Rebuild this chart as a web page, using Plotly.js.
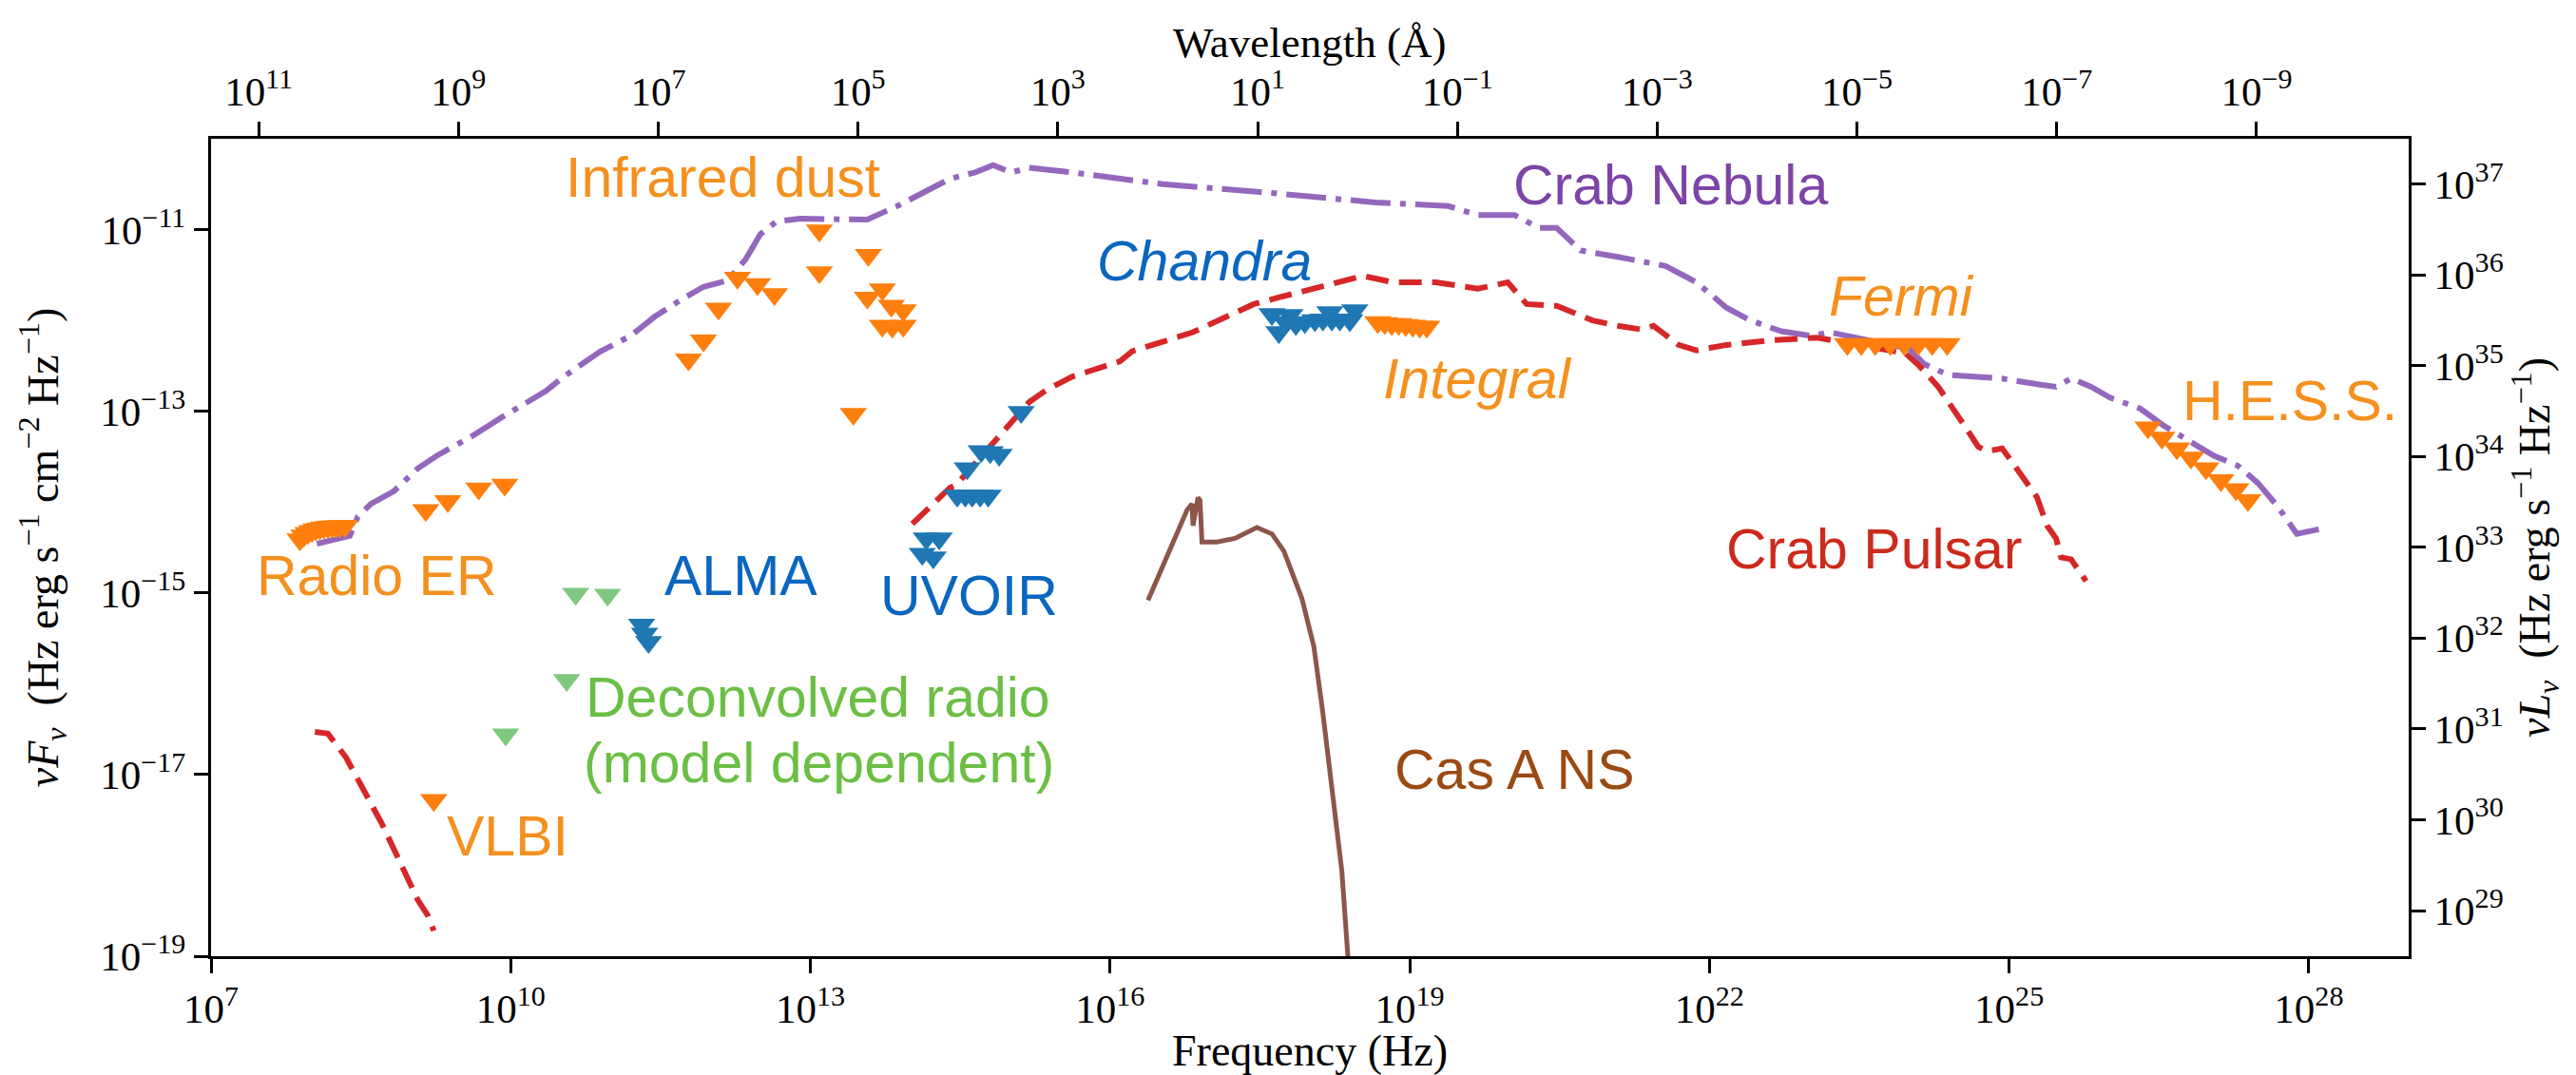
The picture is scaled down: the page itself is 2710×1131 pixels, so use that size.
<!DOCTYPE html>
<html>
<head>
<meta charset="utf-8">
<script src="https://cdn.plot.ly/plotly-3.0.1.min.js"></script>
<style>html,body{margin:0;padding:0;background:#fff;}#chart{width:2710px;height:1131px;}</style>
</head>
<body>
<div id="chart"></div>
<script>
// All values are log10 of frequency (Hz) and log10 of nuF_nu (erg s^-1 cm^-2).

// Crab Nebula (dash-dot)
const nebulaLogNu = [8.06,8.25,8.39,8.47,8.60,8.83,9.07,9.26,9.62,9.92,10.35,10.53,10.90,11.20,11.44,11.68,11.93,12.17,12.35,12.50,12.66,12.90,13.38,13.57,13.87,14.40,14.65,14.83,15.01,15.19,15.62,16.53,17.44,18.65,19.38,19.68,20.05,20.29,20.47,20.71,21.08,21.56,21.87,22.17,22.41,22.72,23.02,23.20,24.00,24.15,24.39,24.93,25.33,25.47,25.62,25.82,26.01,26.31,26.55,26.80,27.05,27.29,27.49,27.69,27.88,28.10];
const nebulaLogF  = [-14.46,-14.41,-14.37,-14.16,-14.02,-13.88,-13.63,-13.49,-13.27,-13.06,-12.78,-12.62,-12.34,-12.17,-11.96,-11.79,-11.63,-11.56,-11.33,-11.05,-10.91,-10.88,-10.88,-10.89,-10.74,-10.44,-10.37,-10.29,-10.37,-10.32,-10.37,-10.50,-10.58,-10.70,-10.74,-10.84,-10.84,-10.98,-10.98,-11.23,-11.30,-11.40,-11.58,-11.86,-12.00,-12.12,-12.17,-12.13,-12.31,-12.48,-12.60,-12.64,-12.71,-12.73,-12.64,-12.73,-12.85,-12.97,-13.16,-13.32,-13.49,-13.60,-13.79,-14.05,-14.35,-14.30];

// Crab Pulsar (dashed) - radio part and high-energy part
const pulsarRadioLogNu = [8.04,8.17,8.35,8.53,8.71,8.83,8.95,9.07,9.17,9.23];
const pulsarRadioLogF  = [-16.53,-16.55,-16.81,-17.16,-17.54,-17.82,-18.10,-18.38,-18.55,-18.72];
const pulsarHighLogNu = [14.02,14.40,14.46,15.19,15.37,15.62,16.10,16.22,16.83,17.44,17.68,18.04,18.29,18.53,18.83,19.26,19.56,19.68,19.86,19.98,20.17,20.35,20.47,20.83,21.08,21.32,21.44,21.69,21.87,22.17,22.60,23.08,23.58,23.96,24.10,24.29,24.59,24.69,24.78,24.93,25.03,25.18,25.28,25.38,25.47,25.52,25.62,25.77];
const pulsarHighLogF  = [-14.24,-13.84,-13.81,-12.90,-12.76,-12.62,-12.45,-12.34,-12.13,-11.82,-11.75,-11.65,-11.58,-11.51,-11.58,-11.58,-11.63,-11.65,-11.61,-11.58,-11.82,-11.84,-11.84,-12.00,-12.06,-12.10,-12.06,-12.27,-12.33,-12.27,-12.22,-12.19,-12.29,-12.36,-12.50,-12.73,-13.22,-13.39,-13.44,-13.41,-13.56,-13.81,-13.95,-14.26,-14.40,-14.61,-14.63,-14.87];

// Cas A neutron star (solid)
const casALogNu = [16.38,16.53,16.77,16.82,16.83,16.88,16.90,16.92,17.07,17.25,17.47,17.62,17.74,17.92,18.04,18.13,18.23,18.32,18.38,18.40];
const casALogF  = [-15.08,-14.71,-14.09,-14.02,-14.26,-13.95,-13.98,-14.44,-14.44,-14.40,-14.28,-14.35,-14.54,-15.06,-15.59,-16.32,-17.19,-18.06,-18.99,-19.40];

// Upper limits (downward triangles)
const radioERLogNu = [7.89,7.93,7.97,8.01,8.05,8.09,8.13,8.17,8.21,8.25,8.29,8.34];
const radioERLogF  = [-14.41,-14.37,-14.34,-14.32,-14.30,-14.29,-14.28,-14.275,-14.27,-14.27,-14.265,-14.265];
const radioLogNu = [9.15,9.37,9.68,9.94];
const radioLogF  = [-14.09,-13.99,-13.85,-13.81];
const vlbiLogNu = [9.23];
const vlbiLogF  = [-17.28];
const irLogNu = [11.78,11.93,12.08,12.27,12.47,12.64,13.09,13.09,13.58,13.57,13.72,13.81,13.93,13.72,13.82,13.93,13.43];
const irLogF  = [-12.43,-12.22,-11.87,-11.53,-11.60,-11.71,-11.01,-11.47,-11.28,-11.75,-11.66,-11.84,-11.89,-12.06,-12.07,-12.06,-13.03];
const integralLogNu = [18.68,18.75,18.82,18.89,18.96,19.03,19.10,19.17];
const integralLogF  = [-12.02,-12.03,-12.04,-12.04,-12.05,-12.06,-12.07,-12.07];
const fermiLogNu = [23.38,23.52,23.66,23.81,23.95,24.09,24.23,24.38];
const fermiLogF  = [-12.26,-12.26,-12.26,-12.26,-12.26,-12.26,-12.26,-12.26];
const hessLogNu = [26.39,26.53,26.68,26.82,26.97,27.12,27.27,27.39];
const hessLogF  = [-13.18,-13.29,-13.41,-13.51,-13.63,-13.76,-13.86,-13.98];
const chandraLogNu = [17.62,17.69,17.76,17.80,17.86,17.95,18.05,18.13,18.20,18.22,18.30,18.40,18.45];
const chandraLogF  = [-11.93,-12.13,-12.02,-11.94,-12.04,-12.02,-12.00,-11.99,-11.91,-11.99,-11.99,-12.00,-11.89];
const uvoirLogNu = [14.12,14.16,14.23,14.29,14.47,14.55,14.62,14.70,14.78,14.57,14.71,14.80,14.89,15.11];
const uvoirLogF  = [-14.57,-14.40,-14.61,-14.40,-13.93,-13.93,-13.93,-13.93,-13.93,-13.63,-13.44,-13.45,-13.48,-13.01];
const almaLogNu = [11.31,11.34,11.38];
const almaLogF  = [-15.35,-15.45,-15.54];
const deconvLogNu = [10.65,10.97,10.56,9.95];
const deconvLogF  = [-15.01,-15.02,-15.96,-16.56];

// Tick labels
const freqTickExp = [7,10,13,16,19,22,25,28];
const fluxTickExp = [-19,-17,-15,-13,-11];
const waveTickExp = [11,9,7,5,3,1,-1,-3,-5,-7,-9];
const lumTickExp = [29,30,31,32,33,34,35,36,37];

// Labels: [text, logNu, logF, color]
const labels = [
  ['Infrared dust', 12.124, -10.43, '#f5901e'],
  ['Crab Nebula', 21.608, -10.513, '#7d44a8'],
  ['<i>Chandra</i>', 16.948, -11.349, '#0b66c0'],
  ['<i>Integral</i>', 19.683, -12.646, '#f5901e'],
  ['<i>Fermi</i>', 23.923, -11.742, '#f5901e'],
  ['H.E.S.S.', 27.806, -12.884, '#f5901e'],
  ['Crab Pulsar', 23.651, -14.522, '#cc2a1c'],
  ['Radio ER', 8.665, -14.810, '#f5901e'],
  ['ALMA', 12.304, -14.810, '#0b66c0'],
  ['UVOIR', 14.589, -15.037, '#0b66c0'],
  ['Deconvolved radio', 13.071, -16.151, '#6cbf45'],
  ['(model dependent)', 13.083, -16.872, '#6cbf45'],
  ['VLBI', 9.969, -17.686, '#f5901e'],
  ['Cas A NS', 20.054, -16.951, '#9a4a12']
];

const pw = a => a.map(v => Math.pow(10, v));
const supTxt = e => '10<sup>' + (e < 0 ? '\u2212' + (-e) : e) + '</sup>';

const ORANGE = '#ff7f0e', BLUE = '#1f77b4', GREEN = '#7fc97f';
const MS = 25;

function lineTrace(lx, ly, color, dash, width) {
  return {x: pw(lx), y: pw(ly), mode: 'lines', type: 'scatter',
    line: {color: color, width: width, dash: dash}, hoverinfo: 'skip', showlegend: false};
}
function markTrace(lx, ly, color, name) {
  return {x: pw(lx), y: pw(ly), mode: 'markers', type: 'scatter', name: name,
    marker: {symbol: 'triangle-down', size: MS, color: color, line: {width: 0}}, showlegend: false};
}

const traces = [
  lineTrace(nebulaLogNu, nebulaLogF, '#9467bd', '42px,10px,6px,10px', 6),
  lineTrace(pulsarRadioLogNu, pulsarRadioLogF, '#d62728', '24px,11px', 6),
  lineTrace(pulsarHighLogNu, pulsarHighLogF, '#d62728', '24px,11px', 6),
  lineTrace(casALogNu, casALogF, '#8c564b', 'solid', 5),
  markTrace(radioERLogNu, radioERLogF, ORANGE, 'Radio ER'),
  markTrace(radioLogNu, radioLogF, ORANGE, 'Radio'),
  markTrace(vlbiLogNu, vlbiLogF, ORANGE, 'VLBI'),
  markTrace(irLogNu, irLogF, ORANGE, 'Infrared dust'),
  markTrace(integralLogNu, integralLogF, ORANGE, 'Integral'),
  markTrace(fermiLogNu, fermiLogF, ORANGE, 'Fermi'),
  markTrace(hessLogNu, hessLogF, ORANGE, 'H.E.S.S.'),
  markTrace(deconvLogNu, deconvLogF, GREEN, 'Deconvolved radio'),
  markTrace(almaLogNu, almaLogF, BLUE, 'ALMA'),
  markTrace(uvoirLogNu, uvoirLogF, BLUE, 'UVOIR'),
  markTrace(chandraLogNu, chandraLogF, BLUE, 'Chandra'),
  {x: [], y: [], xaxis: 'x2', yaxis: 'y2', type: 'scatter', mode: 'markers', showlegend: false, hoverinfo: 'skip'}
];

const SERIF = 'Liberation Serif, Times New Roman, serif';
const SANS = 'Liberation Sans, Arial, sans-serif';
const tickFont = {family: SERIF, size: 43, color: '#000'};
const titleFont = {family: SERIF, size: 46, color: '#000'};
const topTitleFont = {family: SERIF, size: 45, color: '#000'};
const LOG_C = 18.47678; // log10 of speed of light in Angstrom/s

const axisCommon = {
  type: 'log', showgrid: false, zeroline: false, showline: true, linecolor: '#000', linewidth: 3,
  ticks: 'outside', ticklen: 15, tickwidth: 3, tickcolor: '#000', tickfont: tickFont,
  tickmode: 'array', autorange: false, fixedrange: true
};

const layout = {
  width: 2710, height: 1131,
  margin: {l: 222, r: 176, t: 146, b: 125, pad: 0},
  paper_bgcolor: '#fff', plot_bgcolor: '#fff',
  showlegend: false,
  xaxis: Object.assign({}, axisCommon, {
    range: [7, 29],
    tickvals: pw(freqTickExp), ticktext: freqTickExp.map(supTxt),
    title: {text: 'Frequency (Hz)', font: titleFont, standoff: 18}
  }),
  yaxis: Object.assign({}, axisCommon, {
    range: [-19, -10],
    tickvals: pw(fluxTickExp), ticktext: fluxTickExp.map(supTxt),
    title: {text: '<i>\u03bdF</i><sub><i>\u03bd</i></sub>  (Hz erg s<sup>\u22121</sup> cm<sup>\u22122</sup> Hz<sup>\u22121</sup>)', font: titleFont, standoff: 30}
  }),
  xaxis2: Object.assign({}, axisCommon, {
    overlaying: 'x', side: 'top', anchor: 'y',
    range: [LOG_C - 7, LOG_C - 29],
    tickvals: pw(waveTickExp), ticktext: waveTickExp.map(supTxt)
  }),
  yaxis2: Object.assign({}, axisCommon, {
    overlaying: 'y', side: 'right', anchor: 'x',
    range: [-19 + 47.498, -10 + 47.498],
    tickvals: pw(lumTickExp), ticktext: lumTickExp.map(supTxt),
    title: {text: '<i>\u03bdL</i><sub><i>\u03bd</i></sub>  (Hz erg s<sup>\u22121</sup> Hz<sup>\u22121</sup>)', font: titleFont, standoff: 12}
  }),
  annotations: labels.map(l => ({
    text: l[0], x: l[1], y: l[2], xref: 'x', yref: 'y',
    xanchor: 'center', yanchor: 'middle', showarrow: false,
    font: {family: SANS, size: 59, color: l[3]}
  })).concat([{
    // title of the top (wavelength) axis
    text: 'Wavelength (\u00c5)', xref: 'paper', yref: 'paper', x: 0.5, y: 1.117,
    xanchor: 'center', yanchor: 'middle', showarrow: false, borderpad: 0, font: topTitleFont
  }])
};

Plotly.newPlot('chart', traces, layout, {staticPlot: true, displayModeBar: false});
</script>
</body>
</html>
